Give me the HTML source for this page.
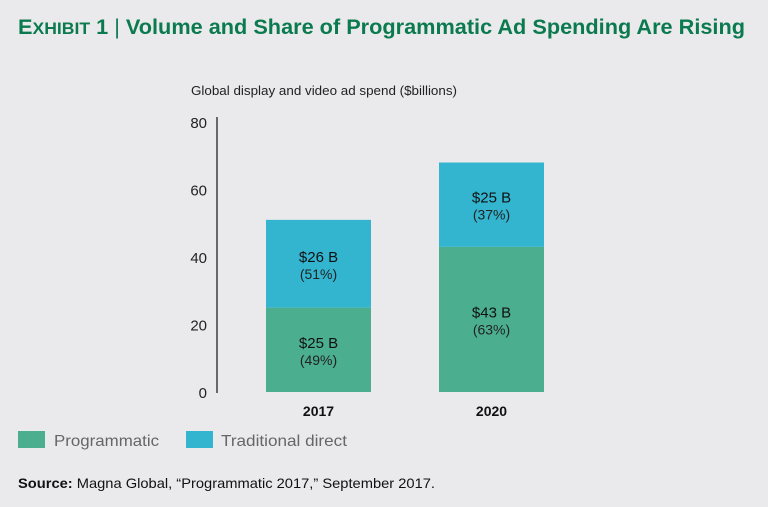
<!DOCTYPE html>
<html><head><meta charset="utf-8"><style>
body{margin:0;background:#eaeaec;font-family:"Liberation Sans",sans-serif;}
#wrap{position:relative;width:768px;height:507px;overflow:hidden;background:#eaeaec;}
</style></head><body>
<div id="wrap">
<svg id="svg" width="768" height="507">
<text x="18" y="34" fill="#0b7a4f" font-size="21" font-weight="bold" textLength="727" lengthAdjust="spacingAndGlyphs">E<tspan font-size="17">XHIBIT</tspan> 1 <tspan font-weight="normal">|</tspan> Volume and Share of Programmatic Ad Spending Are Rising</text>
<text x="191" y="95" fill="#222" font-size="12.5" textLength="266" lengthAdjust="spacingAndGlyphs">Global display and video ad spend ($billions)</text>
<line x1="217" y1="117" x2="217" y2="393" stroke="#222" stroke-width="1.3"/>
<g id="ticks"></g><g id="bars"></g>
<rect x="18" y="431" width="27" height="17" fill="#4bae8f"/>
<text x="54" y="446" fill="#666" font-size="16" textLength="105" lengthAdjust="spacingAndGlyphs">Programmatic</text>
<rect x="186" y="431" width="27" height="17" fill="#33b5d0"/>
<text x="221" y="446" fill="#666" font-size="16" textLength="126" lengthAdjust="spacingAndGlyphs">Traditional direct</text>
<text x="18" y="488" fill="#111" font-size="14" textLength="417" lengthAdjust="spacingAndGlyphs"><tspan font-weight="bold">Source:</tspan> Magna Global, “Programmatic 2017,” September 2017.</text>
</svg>
<script>
const categories=["2017","2020"];
const programmatic=[25,43];
const traditional=[26,25];
const progPct=["49%","63%"];
const tradPct=["51%","37%"];
const tickValues=[0,20,40,60,80];
const ns="http://www.w3.org/2000/svg";
function y(v){return 392-v*3.375;}
function x(i){return 266+i*173;}
const bw=105;
function mk(tag,attrs,txt){const e=document.createElementNS(ns,tag);for(const k in attrs)e.setAttribute(k,attrs[k]);if(txt!==undefined)e.textContent=txt;return e;}
const tg=document.getElementById('ticks'),bg=document.getElementById('bars');
tickValues.forEach(t=>{const e=mk('text',{x:207,y:y(t)+6,'text-anchor':'end','font-size':15,fill:'#222'},t);


tg.appendChild(e);});
categories.forEach((c,i)=>{
const p=programmatic[i],t=traditional[i];
const r1=mk('rect',{x:x(i),y:y(p),width:bw,height:y(0)-y(p),fill:'#4bae8f'});


bg.appendChild(r1);
const r2=mk('rect',{x:x(i),y:y(p+t),width:bw,height:y(p)-y(p+t),fill:'#33b5d0'});


bg.appendChild(r2);
const cx=x(i)+bw/2;
const my1=(y(0)+y(p))/2, my2=(y(p)+y(p+t))/2;
[[my1,p,progPct[i],'programmatic'],[my2,t,tradPct[i],'traditional']].forEach(a=>{
const l1=mk('text',{x:cx,y:a[0]-2,'text-anchor':'middle','font-size':15,fill:'#111'},'$'+a[1]+' B');


bg.appendChild(l1);
const l2=mk('text',{x:cx,y:a[0]+15,'text-anchor':'middle','font-size':14,fill:'#222'},'('+a[2]+')');


bg.appendChild(l2);});
const xl=mk('text',{x:cx,y:416,'text-anchor':'middle','font-size':14,'font-weight':'bold',fill:'#111'},c);


bg.appendChild(xl);
});
</script>
</div></body></html>
